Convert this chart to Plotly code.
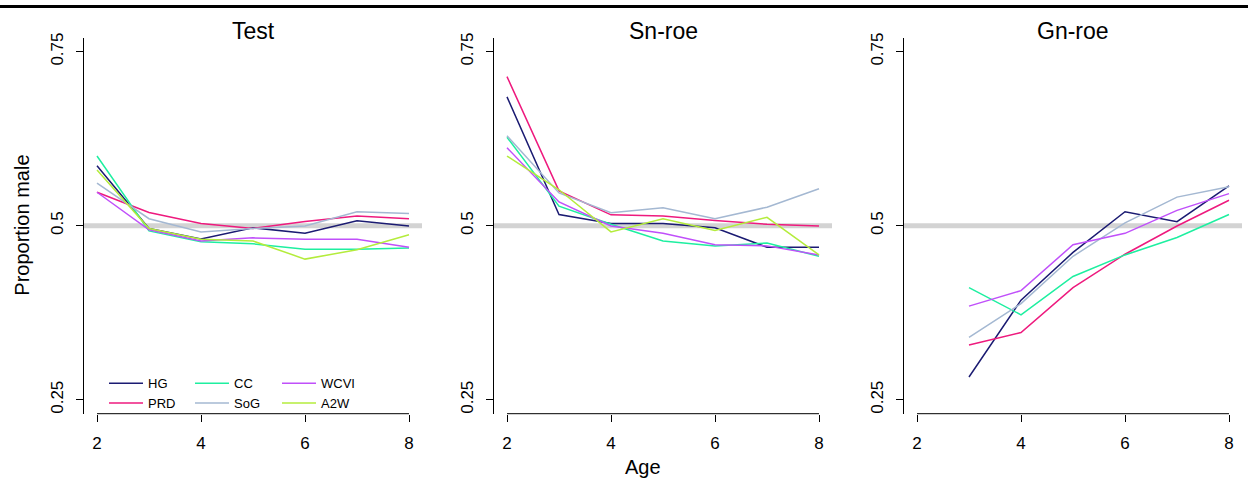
import plotly.graph_objects as go

ages = [2, 3, 4, 5, 6, 7, 8]
ages_gn = [3, 4, 5, 6, 7, 8]
series = ["HG", "PRD", "CC", "SoG", "WCVI", "A2W"]
colors = {"HG": "#1B1B72", "PRD": "#EE1A7E", "CC": "#1EEFA0",
          "SoG": "#A4B8D2", "WCVI": "#C050FA", "A2W": "#B4EC3C"}
panel_titles = ["Test", "Sn-roe", "Gn-roe"]
y_ticks = [0.25, 0.5, 0.75]
y_tick_labels = ["0.25", "0.5", "0.75"]
x_ticks = [2, 4, 6, 8]
ref_level = 0.5

test_vals = {
    "HG":   [0.586, 0.496, 0.481, 0.497, 0.489, 0.507, 0.4995],
    "PRD":  [0.548, 0.519, 0.503, 0.496, 0.506, 0.514, 0.510],
    "CC":   [0.600, 0.4925, 0.477, 0.474, 0.466, 0.466, 0.468],
    "SoG":  [0.561, 0.510, 0.491, 0.496, 0.4995, 0.520, 0.5175],
    "WCVI": [0.548, 0.494, 0.478, 0.4825, 0.4805, 0.4805, 0.469],
    "A2W":  [0.580, 0.496, 0.4805, 0.478, 0.452, 0.4655, 0.487],
}
snroe_vals = {
    "HG":   [0.685, 0.516, 0.503, 0.503, 0.497, 0.469, 0.469],
    "PRD":  [0.714, 0.550, 0.5156, 0.514, 0.5075, 0.502, 0.4995],
    "CC":   [0.627, 0.528, 0.502, 0.478, 0.471, 0.475, 0.456],
    "SoG":  [0.629, 0.547, 0.5185, 0.5256, 0.510, 0.5265, 0.553],
    "WCVI": [0.612, 0.534, 0.4995, 0.489, 0.4725, 0.471, 0.458],
    "A2W":  [0.600, 0.5516, 0.491, 0.510, 0.493, 0.512, 0.458],
}
gnroe_vals = {
    "HG":   [0.2827, 0.393, 0.4616, 0.520, 0.5057, 0.557],
    "PRD":  [0.3286, 0.3466, 0.411, 0.459, 0.4995, 0.5365],
    "CC":   [0.411, 0.372, 0.427, 0.458, 0.483, 0.516],
    "SoG":  [0.3395, 0.388, 0.456, 0.504, 0.541, 0.556],
    "WCVI": [0.3845, 0.4067, 0.4726, 0.489, 0.522, 0.546],
}

W, H = 1248, 480
FONT = "Liberation Sans, Arial, sans-serif"
# panel x domains in pixels (left axis line to right edge)
px_domains = [(84, 422), (494, 832), (904, 1242)]
y_dom = ((480 - 413) / H, (480 - 33) / H)

legend_of = {"HG": "legend", "PRD": "legend", "CC": "legend2", "SoG": "legend2",
             "WCVI": "legend3", "A2W": "legend3"}

fig = go.Figure()
panels = [(ages, test_vals), (ages, snroe_vals), (ages_gn, gnroe_vals)]
for i, (xs, vals) in enumerate(panels):
    sfx = "" if i == 0 else str(i + 1)
    for s in series:
        if s not in vals:
            continue
        fig.add_trace(go.Scatter(
            x=xs, y=vals[s], mode="lines", name=s,
            line=dict(color=colors[s], width=1.5),
            xaxis="x" + sfx, yaxis="y" + sfx,
            showlegend=(i == 0), legend=legend_of[s],
        ))

layout = dict(
    width=W, height=H, margin=dict(l=0, r=0, t=0, b=0),
    paper_bgcolor="white", plot_bgcolor="white",
    font=dict(family=FONT, color="black", size=17),
    showlegend=True,
)
for i, (a, b) in enumerate(px_domains):
    sfx = "" if i == 0 else str(i + 1)
    layout["xaxis" + sfx] = dict(
        domain=[a / W, b / W], range=[1.75, 8.25], anchor="y" + sfx,
        tickmode="array", tickvals=x_ticks, ticktext=[str(t) for t in x_ticks],
        ticks="outside", ticklen=7, tickwidth=1, tickcolor="black",
        showline=False, showgrid=False, zeroline=False,
        tickfont=dict(size=17, family=FONT, color="black"),
        ticklabelstandoff=7,
    )
    layout["yaxis" + sfx] = dict(
        domain=list(y_dom), range=[0.23, 0.77], anchor="x" + sfx,
        tickmode="array", tickvals=y_ticks, ticktext=y_tick_labels,
        ticks="outside", ticklen=7, tickwidth=1, tickcolor="black",
        showline=True, linecolor="black", linewidth=1,
        showgrid=False, zeroline=False, tickangle=-90,
        tickfont=dict(size=17, family=FONT, color="black"),
        ticklabelstandoff=6,
    )

shapes = []
annotations = []
for i, (a, b) in enumerate(px_domains):
    sfx = "" if i == 0 else str(i + 1)
    # grey reference line at 0.5
    shapes.append(dict(type="line", xref="x" + sfx + " domain", yref="y" + sfx,
                       x0=0, x1=1, y0=ref_level, y1=ref_level,
                       line=dict(color="#D3D3D3", width=5), layer="below"))
    # x axis line from first to last tick
    shapes.append(dict(type="line", xref="x" + sfx, yref="y" + sfx + " domain",
                       x0=x_ticks[0], x1=x_ticks[-1], y0=0, y1=0,
                       line=dict(color="black", width=1)))
    annotations.append(dict(text=panel_titles[i], x=(a + b) / 2 / W, y=(480 - 26) / H,
                            xref="paper", yref="paper", showarrow=False,
                            xanchor="center", yanchor="middle",
                            font=dict(size=23, family=FONT, color="black")))

# top border line
shapes.append(dict(type="line", xref="paper", yref="paper", x0=0, x1=1,
                   y0=1 - 1.5 / H, y1=1 - 1.5 / H, line=dict(color="black", width=3)))

annotations.append(dict(text="Proportion male", x=22 / W, y=(480 - 223) / H,
                        xref="paper", yref="paper", showarrow=False, textangle=-90,
                        xanchor="center", yanchor="middle",
                        font=dict(size=20, family=FONT, color="black")))
annotations.append(dict(text="Age", x=643 / W, y=(480 - 467) / H,
                        xref="paper", yref="paper", showarrow=False,
                        xanchor="center", yanchor="middle",
                        font=dict(size=20, family=FONT, color="black")))

leg_common = dict(orientation="v", xanchor="left", yanchor="top",
                  bgcolor="rgba(0,0,0,0)", borderwidth=0, tracegroupgap=0,
                  font=dict(size=13, family=FONT, color="black"), itemwidth=34)
ly = (480 - 367) / H
layout["legend"] = dict(leg_common, x=104 / W, y=ly)
layout["legend2"] = dict(leg_common, x=190 / W, y=ly)
layout["legend3"] = dict(leg_common, x=277 / W, y=ly)

layout["shapes"] = shapes
layout["annotations"] = annotations
fig.update_layout(**layout)
fig.write_html("out.html")
